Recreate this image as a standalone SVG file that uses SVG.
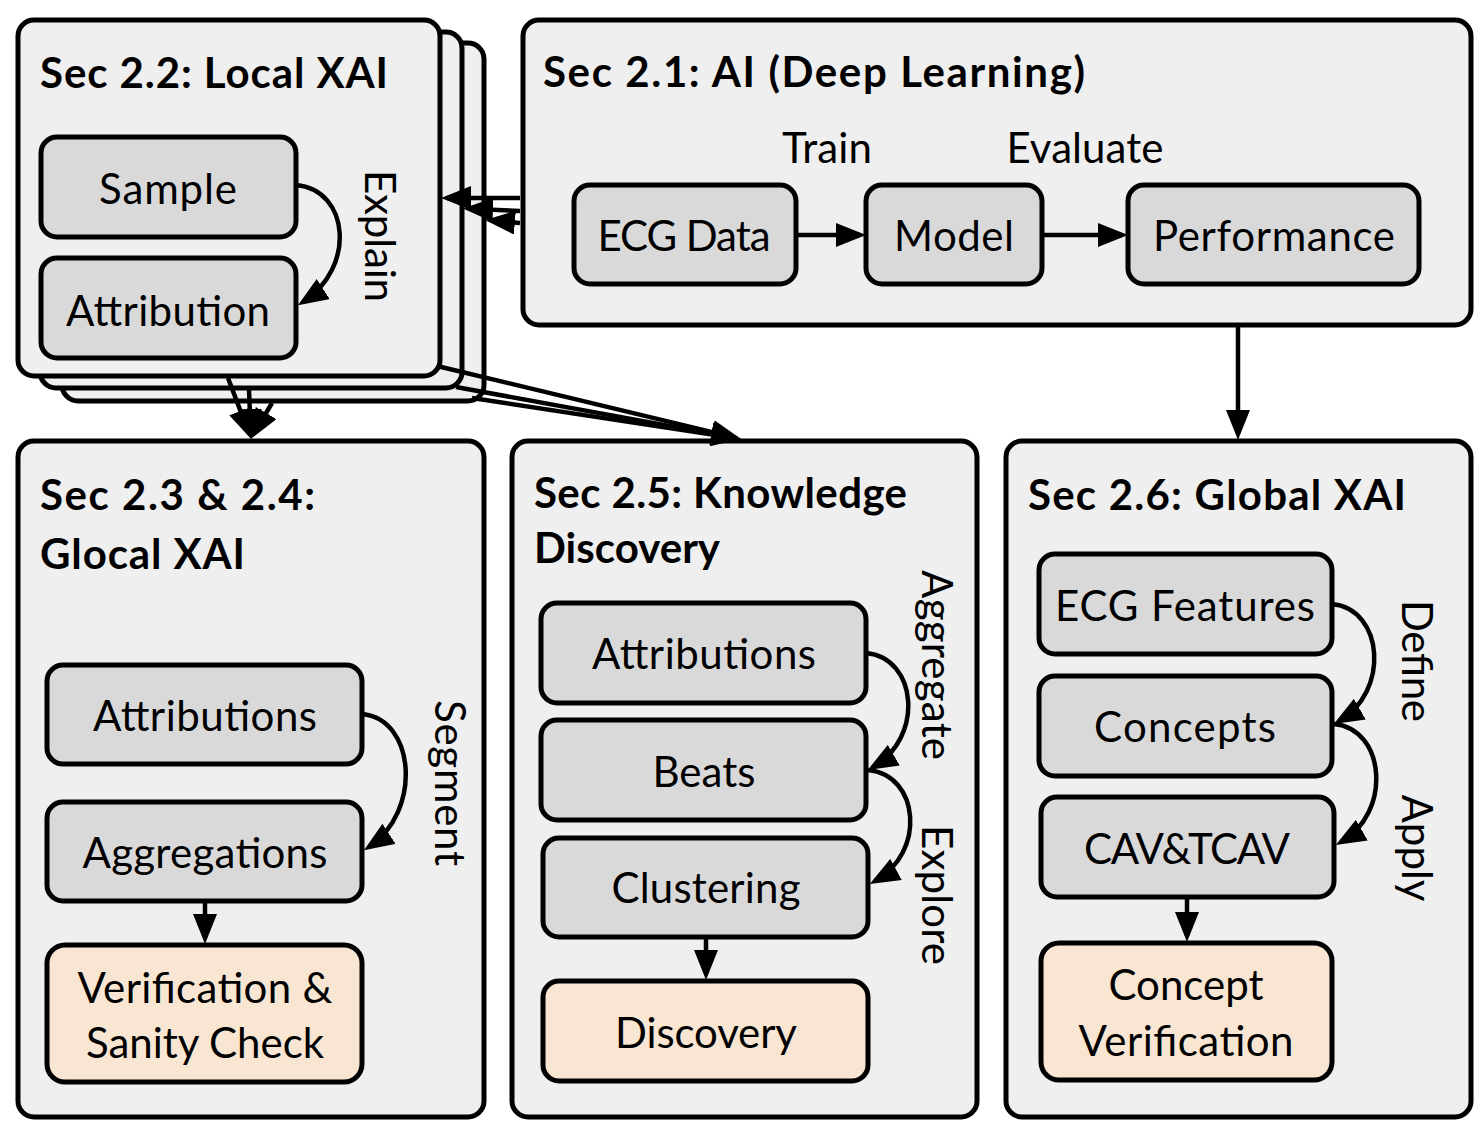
<svg xmlns="http://www.w3.org/2000/svg" width="1480" height="1138" viewBox="0 0 1480 1138">
<style>
.sec{fill:#efefef;stroke:#000;stroke-width:5}
.node{fill:#d9d9d9;stroke:#000;stroke-width:5}
.res{fill:#f8e6d3;stroke:#000;stroke-width:5}
.t{font-family:Lato,"Open Sans","DejaVu Sans",sans-serif;font-size:42px;fill:#000}
.c{text-anchor:middle}
.h{font-family:Lato,"Open Sans","DejaVu Sans",sans-serif;font-size:42px;font-weight:bold;fill:#000}
.e{fill:none;stroke:#000;stroke-width:4.5;marker-end:url(#ah)}
</style>
<defs>
<marker id="ah" markerUnits="userSpaceOnUse" markerWidth="30" markerHeight="24" refX="24" refY="12" orient="auto" viewBox="0 0 30 24">
<path d="M0,0 L30,12 L0,24 z" fill="#000"/>
</marker>
</defs>
<rect width="1480" height="1138" fill="#fff"/>

<g id="local-xai">
<rect class="sec" x="62" y="43" width="422" height="358" rx="16"/>
<rect class="sec" x="40" y="32" width="422" height="356" rx="16"/>
<rect class="sec" x="18" y="20" width="422" height="356" rx="16"/>
<text class="h" x="40" y="88" textLength="348">Sec 2.2: Local XAI</text>
</g>
<g id="sample">
<rect class="node" x="41" y="137" width="255" height="100" rx="16"/>
<text class="t c" x="168" y="204" textLength="138">Sample</text>
</g>
<g id="attribution">
<rect class="node" x="41" y="258" width="255" height="100" rx="16"/>
<text class="t c" x="168" y="326" textLength="204">Attribution</text>
</g>

<g id="ai">
<rect class="sec" x="523" y="20" width="948" height="305" rx="16"/>
<text class="h" x="543" y="87" textLength="542">Sec 2.1: AI (Deep Learning)</text>
</g>
<g id="ecg-data">
<rect class="node" x="574" y="185" width="222" height="99" rx="16"/>
<text class="t c" x="684" y="251" textLength="173">ECG Data</text>
</g>
<g id="model">
<rect class="node" x="866" y="185" width="176" height="99" rx="16"/>
<text class="t c" x="954" y="251" textLength="120">Model</text>
</g>
<g id="performance">
<rect class="node" x="1128" y="185" width="291" height="99" rx="16"/>
<text class="t c" x="1274" y="251" textLength="242">Performance</text>
</g>

<g id="glocal-xai">
<rect class="sec" x="18" y="441" width="466" height="676" rx="16"/>
<text class="h" x="40" y="510" textLength="275">Sec 2.3 &amp; 2.4:</text>
<text class="h" x="40" y="569" textLength="205">Glocal XAI</text>
</g>
<g id="glocal-attributions">
<rect class="node" x="47" y="665" width="315" height="99" rx="16"/>
<text class="t c" x="205" y="731" textLength="224">Attributions</text>
</g>
<g id="aggregations">
<rect class="node" x="47" y="802" width="315" height="99" rx="16"/>
<text class="t c" x="205" y="868" textLength="245">Aggregations</text>
</g>
<g id="verification-sanity">
<rect class="res" x="47" y="945" width="315" height="137" rx="18"/>
<text class="t c" x="205" y="1003" textLength="255">Verification &amp;</text>
<text class="t c" x="205" y="1058" textLength="238">Sanity Check</text>
</g>

<g id="knowledge-discovery">
<rect class="sec" x="512" y="441" width="465" height="676" rx="16"/>
<text class="h" x="534" y="508" textLength="373">Sec 2.5: Knowledge</text>
<text class="h" x="534" y="563" textLength="186">Discovery</text>
</g>
<g id="kd-attributions">
<rect class="node" x="541" y="603" width="325" height="100" rx="16"/>
<text class="t c" x="704" y="669" textLength="224">Attributions</text>
</g>
<g id="beats">
<rect class="node" x="541" y="720" width="325" height="100" rx="16"/>
<text class="t c" x="704" y="787" textLength="103">Beats</text>
</g>
<g id="clustering">
<rect class="node" x="543" y="838" width="325" height="99" rx="16"/>
<text class="t c" x="706" y="903" textLength="189">Clustering</text>
</g>
<g id="discovery">
<rect class="res" x="543" y="981" width="325" height="100" rx="16"/>
<text class="t c" x="706" y="1048" textLength="182">Discovery</text>
</g>

<g id="global-xai">
<rect class="sec" x="1006" y="441" width="465" height="676" rx="16"/>
<text class="h" x="1028" y="510" textLength="378">Sec 2.6: Global XAI</text>
</g>
<g id="ecg-features">
<rect class="node" x="1039" y="554" width="293" height="100" rx="16"/>
<text class="t c" x="1185" y="621" textLength="260">ECG Features</text>
</g>
<g id="concepts">
<rect class="node" x="1039" y="676" width="293" height="100" rx="16"/>
<text class="t c" x="1185" y="742" textLength="182">Concepts</text>
</g>
<g id="cav-tcav">
<rect class="node" x="1041" y="797" width="293" height="100" rx="16"/>
<text class="t c" x="1187" y="864" textLength="206">CAV&amp;TCAV</text>
</g>
<g id="concept-verification">
<rect class="res" x="1041" y="943" width="291" height="137" rx="18"/>
<text class="t c" x="1186" y="1000" textLength="155">Concept</text>
<text class="t c" x="1186" y="1056" textLength="215">Verification</text>
</g>

<g id="connectors">
<line class="e" x1="798" y1="235" x2="860" y2="235"/>
<line class="e" x1="1044" y1="235" x2="1122" y2="235"/>
<line class="e" x1="1238" y1="327" x2="1238" y2="434"/>
<line class="e" x1="205" y1="903" x2="205" y2="938"/>
<line class="e" x1="706" y1="939" x2="706" y2="974"/>
<line class="e" x1="1187" y1="899" x2="1187" y2="936"/>
<line class="e" x1="520" y1="198" x2="447" y2="198"/>
<line class="e" x1="520" y1="211" x2="469" y2="208.8"/>
<line class="e" x1="520" y1="223" x2="491" y2="220.5"/>
<line class="e" x1="228" y1="378" x2="249" y2="433.4"/>
<line class="e" x1="249" y1="390" x2="250.8" y2="433"/>
<line class="e" x1="272" y1="403" x2="253.9" y2="433.7"/>
<line class="e" x1="437" y1="366" x2="735.2" y2="437.6"/>
<line class="e" x1="456" y1="387" x2="735.1" y2="437.9"/>
<line class="e" x1="472" y1="398" x2="735.1" y2="438.1"/>
<path class="e" d="M296,185 C350,190 356,268 303,302"/>
<path class="e" d="M362,714 C416,719 422,812 369,847"/>
<path class="e" d="M866,653 C918,658 924,738 873,767"/>
<path class="e" d="M868,770 C920,775 926,853 875,881"/>
<path class="e" d="M1332,604 C1384,609 1390,692 1339,721"/>
<path class="e" d="M1334,724 C1386,729 1392,813 1341,842"/>
<text class="t c" x="827" y="163" textLength="90">Train</text>
<text class="t c" x="1085" y="163" textLength="157">Evaluate</text>
<text class="t c" transform="translate(365,236) rotate(90)" textLength="132">Explain</text>
<text class="t c" transform="translate(435,783) rotate(90)" textLength="166">Segment</text>
<text class="t c" transform="translate(922,665) rotate(90)" textLength="190">Aggregate</text>
<text class="t c" transform="translate(922,895) rotate(90)" textLength="140">Explore</text>
<text class="t c" transform="translate(1402,661) rotate(90)" textLength="122">Define</text>
<text class="t c" transform="translate(1402,848) rotate(90)" textLength="107">Apply</text>
</g>
</svg>
